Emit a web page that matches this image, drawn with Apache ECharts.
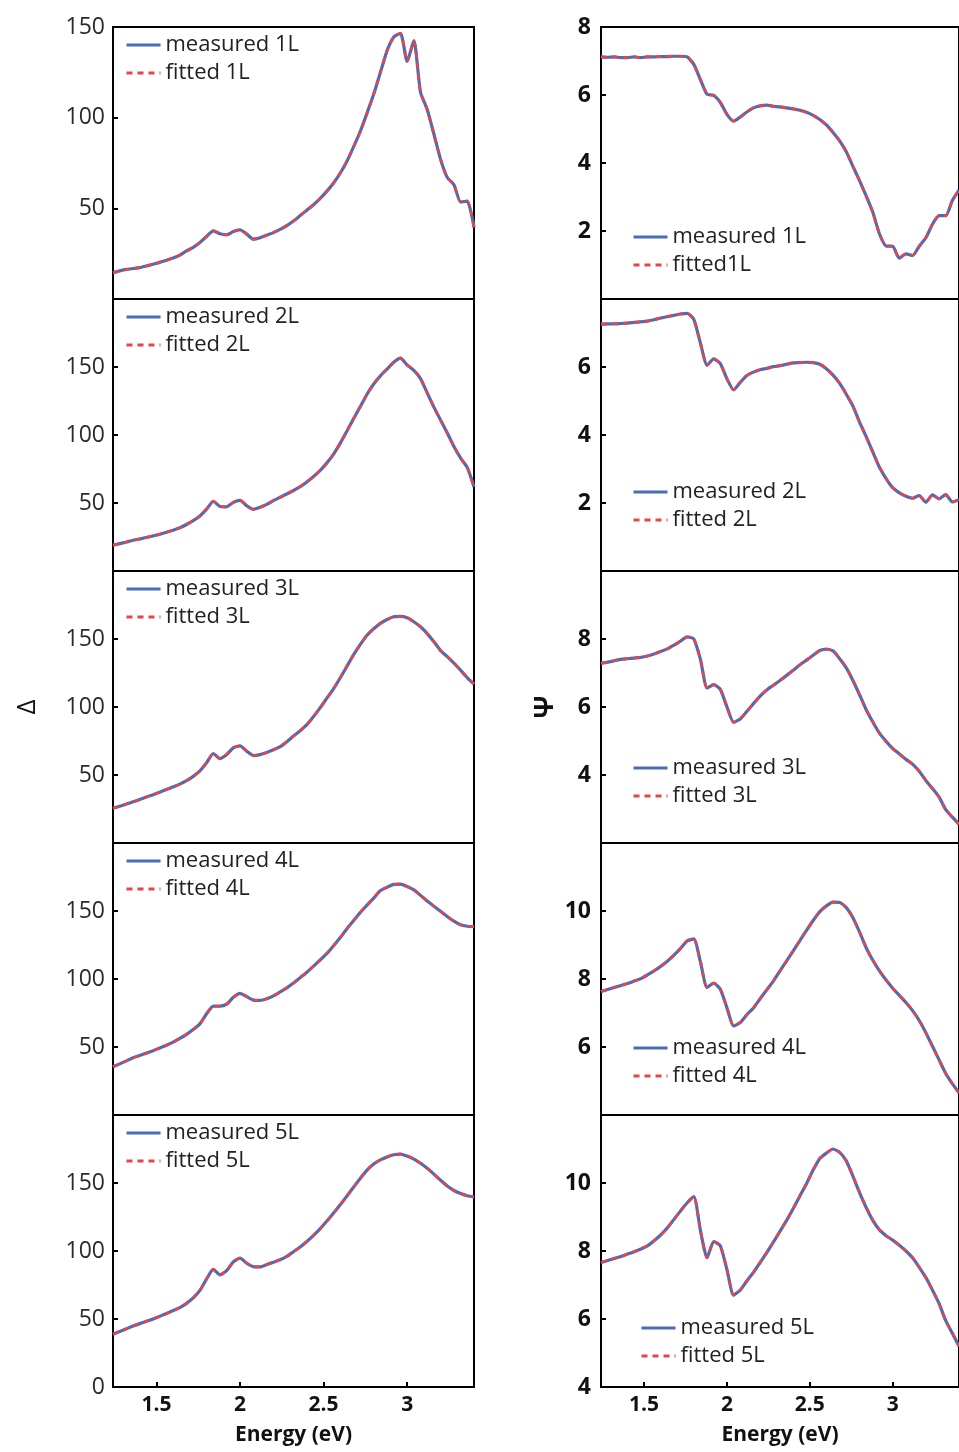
<!DOCTYPE html>
<html>
<head>
<meta charset="utf-8">
<script src="https://cdn.jsdelivr.net/npm/echarts@6/dist/echarts.min.js"></script>
<style>
  html, body { margin: 0; padding: 0; background: #fff; }
  #main { width: 959px; height: 1452px; }
</style>
</head>
<body>
<div id="main"></div>
<script>
// photon energy (eV), shared by all panels
var energy = [1.24, 1.28, 1.32, 1.36, 1.40, 1.44, 1.48, 1.52, 1.56, 1.60,
  1.64, 1.68, 1.72, 1.76, 1.80, 1.84, 1.88, 1.92, 1.96, 2.00,
  2.04, 2.08, 2.12, 2.16, 2.20, 2.24, 2.28, 2.32, 2.36, 2.40,
  2.44, 2.48, 2.52, 2.56, 2.60, 2.64, 2.68, 2.72, 2.76, 2.80,
  2.84, 2.88, 2.92, 2.96, 3.00, 3.04, 3.08, 3.12, 3.16, 3.20,
  3.24, 3.28, 3.32, 3.36, 3.40];

var xTicks = [1.5, 2, 2.5, 3];

// Delta, measured (fitted curves lie on top of these)
var delta1L = [14.5, 15.5, 16.3, 16.8, 17.3, 18.2, 19.2, 20.2, 21.4, 22.6,
  24.2, 26.5, 28.5, 31.2, 34.5, 37.6, 36.0, 35.4, 37.2, 38.2,
  35.8, 33.0, 33.8, 35.2, 36.6, 38.4, 40.5, 43, 46, 49,
  52, 55.5, 59.5, 64, 69.5, 76, 84, 92.5, 102.5, 113,
  125, 137, 144.5, 146.5, 131, 142.5, 114, 104.5, 91, 77,
  67, 63, 53.5, 54, 39.5];
var delta2L = [19, 20.1, 21.3, 22.6, 23.6, 24.6, 25.8, 27, 28.5, 30,
  31.8, 34.2, 37, 40.5, 45.5, 51.3, 47.5, 47.2, 50.5, 52,
  48, 45.3, 46.8, 49, 51.8, 54.2, 56.6, 59.2, 62, 65.5,
  69.5, 74, 79.5, 86, 94, 103, 112.2, 121, 130, 137.5,
  143.5, 148.5, 153.5, 156.5, 151.5, 147.5, 141.5, 131, 120.5, 111,
  101.5, 91.5, 83, 76, 61.8];
var delta3L = [25.5, 27, 28.6, 30.3, 32, 33.8, 35.5, 37.4, 39.3, 41.3,
  43.3, 45.8, 49, 53, 59, 65.8, 62, 65, 70, 71.4,
  67.5, 64.3, 65, 66.5, 68.5, 70.8, 74.5, 78.6, 82.5, 87,
  93, 99.5, 106.5, 113.5, 121.5, 130, 138.5, 146, 152.8, 157.5,
  161.5, 164.3, 166.4, 166.6, 165.6, 162.7, 159, 154, 148, 141.5,
  137, 132.2, 127, 121.5, 116.9];
var delta4L = [35.5, 37.6, 39.8, 42.1, 43.8, 45.5, 47.3, 49.3, 51.3, 53.6,
  56.3, 59.3, 62.8, 67, 74.4, 80, 80, 81.5, 86.5, 89.5,
  87, 84.5, 84.3, 85.5, 87.6, 90.5, 93.5, 97, 101, 105,
  109.5, 114, 118.8, 124.5, 130.5, 137, 143, 149, 154.3, 159.5,
  165, 167.5, 169.6, 169.8, 168, 165.5, 161.5, 157.3, 153.5, 149.8,
  146, 142.5, 139.8, 138.8, 138.5];
var delta5L = [38.8, 40.8, 42.8, 44.8, 46.6, 48.3, 50, 52, 54, 56.2,
  58.3, 61.5, 65.5, 71, 79.5, 86.5, 82.5, 85.5, 92, 94.8,
  91, 88.5, 88.3, 90, 91.8, 93.5, 96, 99.5, 103, 107,
  111.5, 116.5, 122, 128, 134, 140.5, 147, 153.5, 159.5, 164,
  167, 169.2, 170.8, 171.3, 169.8, 167.6, 164.5, 160.8, 156.5, 152,
  147.8, 144.5, 142.3, 140.6, 139.7];

// Psi, measured
var psi1L = [7.12, 7.11, 7.12, 7.10, 7.10, 7.12, 7.10, 7.12, 7.12, 7.13,
  7.13, 7.14, 7.14, 7.12, 6.90, 6.45, 6.02, 5.99, 5.78, 5.43,
  5.23, 5.35, 5.50, 5.62, 5.68, 5.70, 5.67, 5.65, 5.62, 5.59,
  5.55, 5.49, 5.40, 5.28, 5.12, 4.90, 4.65, 4.33, 3.90, 3.48,
  3.03, 2.55, 1.92, 1.56, 1.55, 1.20, 1.33, 1.28, 1.55, 1.80,
  2.20, 2.45, 2.45, 2.90, 3.20];
var psi2L = [7.26, 7.27, 7.27, 7.28, 7.29, 7.31, 7.33, 7.35, 7.39, 7.44,
  7.48, 7.52, 7.56, 7.58, 7.40, 6.70, 6.05, 6.24, 6.10, 5.65,
  5.33, 5.55, 5.75, 5.85, 5.92, 5.96, 6.01, 6.04, 6.08, 6.12,
  6.13, 6.14, 6.13, 6.08, 5.95, 5.76, 5.52, 5.20, 4.85, 4.38,
  3.95, 3.50, 3.05, 2.72, 2.45, 2.30, 2.20, 2.14, 2.22, 2.02,
  2.24, 2.12, 2.25, 2.03, 2.10];
var psi3L = [7.29, 7.32, 7.36, 7.40, 7.42, 7.44, 7.46, 7.50, 7.56, 7.63,
  7.71, 7.82, 7.94, 8.06, 8.00, 7.40, 6.56, 6.66, 6.52, 6.00,
  5.55, 5.65, 5.87, 6.10, 6.32, 6.50, 6.64, 6.78, 6.93, 7.08,
  7.24, 7.38, 7.52, 7.66, 7.70, 7.65, 7.42, 7.15, 6.78, 6.36,
  5.92, 5.56, 5.23, 4.99, 4.78, 4.62, 4.46, 4.32, 4.11, 3.84,
  3.60, 3.35, 2.98, 2.76, 2.55];
var psi4L = [7.63, 7.69, 7.75, 7.81, 7.87, 7.94, 8.01, 8.12, 8.24, 8.37,
  8.52, 8.70, 8.90, 9.12, 9.18, 8.50, 7.75, 7.88, 7.70, 7.15,
  6.62, 6.72, 6.95, 7.15, 7.42, 7.68, 7.94, 8.24, 8.53, 8.83,
  9.13, 9.43, 9.72, 9.98, 10.15, 10.26, 10.25, 10.10, 9.80, 9.38,
  8.92, 8.55, 8.24, 7.97, 7.73, 7.52, 7.31, 7.07, 6.78, 6.42,
  6.02, 5.62, 5.22, 4.92, 4.65];
var psi5L = [7.66, 7.72, 7.78, 7.84, 7.91, 7.98, 8.06, 8.15, 8.30, 8.47,
  8.68, 8.93, 9.18, 9.42, 9.60, 8.60, 7.80, 8.28, 8.15, 7.45,
  6.70, 6.85, 7.12, 7.37, 7.66, 7.95, 8.26, 8.58, 8.90, 9.25,
  9.62, 9.98, 10.38, 10.72, 10.88, 11.00, 10.90, 10.65, 10.20, 9.72,
  9.28, 8.90, 8.62, 8.45, 8.32, 8.17, 8.00, 7.80, 7.52, 7.22,
  6.85, 6.45, 5.95, 5.58, 5.20];

var deltaNames = [['measured 1L', 'fitted 1L'], ['measured 2L', 'fitted 2L'], ['measured 3L', 'fitted 3L'],
  ['measured 4L', 'fitted 4L'], ['measured 5L', 'fitted 5L']];
var psiNames = [['measured 1L', 'fitted1L'], ['measured 2L', 'fitted 2L'], ['measured 3L', 'fitted 3L'],
  ['measured 4L', 'fitted 4L'], ['measured 5L', 'fitted 5L']];

var deltaRange = [[0, 150], [0, 200], [0, 200], [0, 200], [0, 200]];
var psiRange = [[0, 8], [0, 8], [2, 10], [4, 12], [4, 12]];

var font = '"Open Sans", "DejaVu Sans", sans-serif';
var blue = '#4a6db5';
var red = '#e5444c';
var rowTops = [27, 299, 571, 843, 1115];
var rowH = 272;

function pairs(vals) {
  return energy.map(function (e, i) { return [e, vals[i]]; });
}

var myChart = echarts.init(document.getElementById('main'));

var grid = [], xAxis = [], yAxis = [], series = [], legend = [];

function addPanel(col, row, vals, names, range, interval) {
  var idx = grid.length;
  var bottom = row === 4;
  grid.push({
    left: col === 0 ? 113 : 601,
    top: rowTops[row],
    width: col === 0 ? 361 : 365,
    height: rowH,
    show: true,
    borderColor: '#000',
    borderWidth: 2
  });
  xAxis.push({
    type: 'value',
    gridIndex: idx,
    min: 1.24,
    max: 3.4,
    name: bottom ? 'Energy (eV)' : '',
    nameLocation: 'middle',
    nameGap: 38,
    nameTextStyle: { fontFamily: font, fontSize: 21, fontWeight: 'bold', color: '#111' },
    axisLine: { show: true, onZero: false, lineStyle: { color: '#000', width: 2 } },
    splitLine: { show: false },
    axisTick: { show: bottom, inside: true, length: 5, customValues: xTicks, lineStyle: { color: '#000', width: 2 } },
    axisLabel: { show: bottom, customValues: xTicks, margin: 8, fontFamily: font, fontSize: 21, fontWeight: 'bold', color: '#111' }
  });
  yAxis.push({
    type: 'value',
    gridIndex: idx,
    min: range[0],
    max: range[1],
    interval: interval,
    name: row === 2 ? (col === 0 ? 'Δ' : 'Ψ') : '',
    nameLocation: 'middle',
    nameRotate: 90,
    nameGap: col === 0 ? 72 : 42,
    nameTextStyle: { fontFamily: font, fontSize: 26, fontWeight: col === 0 ? 'normal' : 'bold', color: '#111' },
    axisLine: { show: true, onZero: false, lineStyle: { color: '#000', width: 2 } },
    splitLine: { show: false },
    axisTick: { show: true, inside: true, length: 5, lineStyle: { color: '#000', width: 2 } },
    axisLabel: {
      showMinLabel: row === 4,
      showMaxLabel: row === 0,
      margin: col === 0 ? 8 : 10,
      fontFamily: font,
      fontSize: 23,
      fontWeight: col === 0 ? 'normal' : 'bold',
      color: col === 0 ? '#2a2a2a' : '#111'
    }
  });
  series.push({
    name: names[0], type: 'line', xAxisIndex: idx, yAxisIndex: idx,
    data: pairs(vals), symbol: 'none', smooth: 0.2, z: 2,
    lineStyle: { color: blue, width: 3.2 }, itemStyle: { color: blue }
  });
  series.push({
    name: names[1], type: 'line', xAxisIndex: idx, yAxisIndex: idx,
    data: pairs(vals), symbol: 'none', smooth: 0.2, z: 3,
    lineStyle: { color: red, width: 2.6, type: [6, 5] }, itemStyle: { color: red }
  });
}

var deltaVals = [delta1L, delta2L, delta3L, delta4L, delta5L];
var psiVals = [psi1L, psi2L, psi3L, psi4L, psi5L];

for (var r = 0; r < 5; r++) {
  addPanel(0, r, deltaVals[r], deltaNames[r], deltaRange[r], 50);
}
for (var r2 = 0; r2 < 5; r2++) {
  addPanel(1, r2, psiVals[r2], psiNames[r2], psiRange[r2], 2);
}

// legends: top-left on the Delta side, lower-left on the Psi side
var psiLegendTop = [226, 481, 757, 1037, 1317];
var psiLegendLeft = [632, 632, 632, 632, 640];
function legendAt(names, left, top) {
  return {
    data: names, orient: 'vertical', left: left, top: top, padding: 0,
    itemWidth: 34, itemHeight: 12, itemGap: 6, selectedMode: false,
    itemStyle: { opacity: 0 },
    lineStyle: { width: 3 },
    textStyle: { fontFamily: font, fontSize: 22, color: '#222' }
  };
}
for (var k = 0; k < 5; k++) {
  legend.push(legendAt(deltaNames[k], 125, rowTops[k] + 7));
  legend.push(legendAt(psiNames[k], psiLegendLeft[k], psiLegendTop[k]));
}

myChart.setOption({
  animation: false,
  backgroundColor: '#fff',
  grid: grid,
  xAxis: xAxis,
  yAxis: yAxis,
  legend: legend,
  series: series
});
</script>
</body>
</html>
